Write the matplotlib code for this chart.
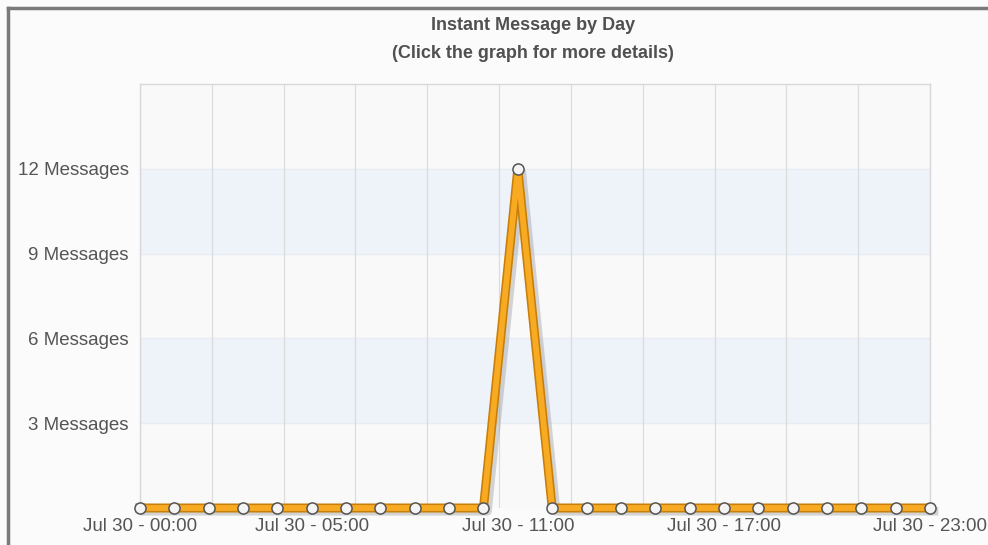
import numpy as np
import matplotlib.pyplot as plt
from matplotlib.lines import Line2D

plt.rcParams['font.family'] = ['Liberation Sans', 'DejaVu Sans']

# Data: hourly instant message counts on Jul 30
hours = list(range(24))
messages = [0, 0, 0, 0, 0, 0, 0, 0, 0, 0, 0, 12, 0, 0, 0, 0, 0, 0, 0, 0, 0, 0, 0, 0]
tick_hours = [0, 5, 11, 17, 23]
tick_labels = ["Jul 30 - %02d:00" % h for h in tick_hours]
y_ticks = [3, 6, 9, 12]
y_labels = ["%d Messages" % v for v in y_ticks]

fig = plt.figure(figsize=(9.88, 5.45), dpi=100)
fig.patch.set_facecolor("#fbfbfb")

ax = fig.add_axes([140 / 988, 37 / 545, 790 / 988, 424 / 545])
ax.set_facecolor("#f9f9f9")

# Alternating bands
ax.axhspan(3, 6, color="#eef2f9", zorder=0)
ax.axhspan(9, 12, color="#eef2f9", zorder=0)
for v in y_ticks:
    ax.axhline(v, color="#e8ecf2", lw=0.8, zorder=1)

# Vertical grid splits the width in 11 equal parts
for gx in np.linspace(0, 23, 12):
    ax.axvline(gx, color="#dcdcdc", lw=0.9, zorder=1)

# Line with darker edge and soft shadow
ax.plot(np.array(hours) + 0.12, np.array(messages) - 0.12, color="#8a8a8a", lw=6,
        alpha=0.35, zorder=2, clip_on=False)
ax.plot(hours, messages, color="#c77f0a", lw=6.5, zorder=3, clip_on=False)
ax.plot(hours, messages, color="#f7aa22", lw=4.2, zorder=4, clip_on=False)
ax.plot(hours, messages, ls="none", marker="o", ms=8, mfc="#f4f4f4",
        mec="#555555", mew=1.1, zorder=5, clip_on=False)

ax.set_xlim(0, 23)
ax.set_ylim(0, 15)
ax.set_xticks(tick_hours)
ax.set_xticklabels(tick_labels)
ax.set_yticks(y_ticks)
ax.set_yticklabels(y_labels)
ax.tick_params(length=0, labelsize=13.5, labelcolor="#555555")
ax.tick_params(axis="x", pad=7)
ax.tick_params(axis="y", pad=8)

for side, sp in ax.spines.items():
    sp.set_color("#d8d8d8")
    sp.set_linewidth(1.0)
ax.spines["bottom"].set_visible(False)

# Titles
fig.text(533 / 988, 1 - 26 / 545, "Instant Message by Day", ha="center", va="center",
         fontsize=13, fontweight="bold", color="#505050")
fig.text(533 / 988, 1 - 53 / 545, "(Click the graph for more details)", ha="center",
         va="center", fontsize=13, fontweight="bold", color="#505050")

# Outer frame
fig.add_artist(Line2D([8 / 988, 8 / 988], [0, 1 - 8 / 545], color="#7a7a7a", lw=2.5))
fig.add_artist(Line2D([8 / 988, 1], [1 - 8 / 545, 1 - 8 / 545], color="#7a7a7a", lw=2.5))

fig.savefig("out.png", dpi=100, facecolor=fig.get_facecolor())
